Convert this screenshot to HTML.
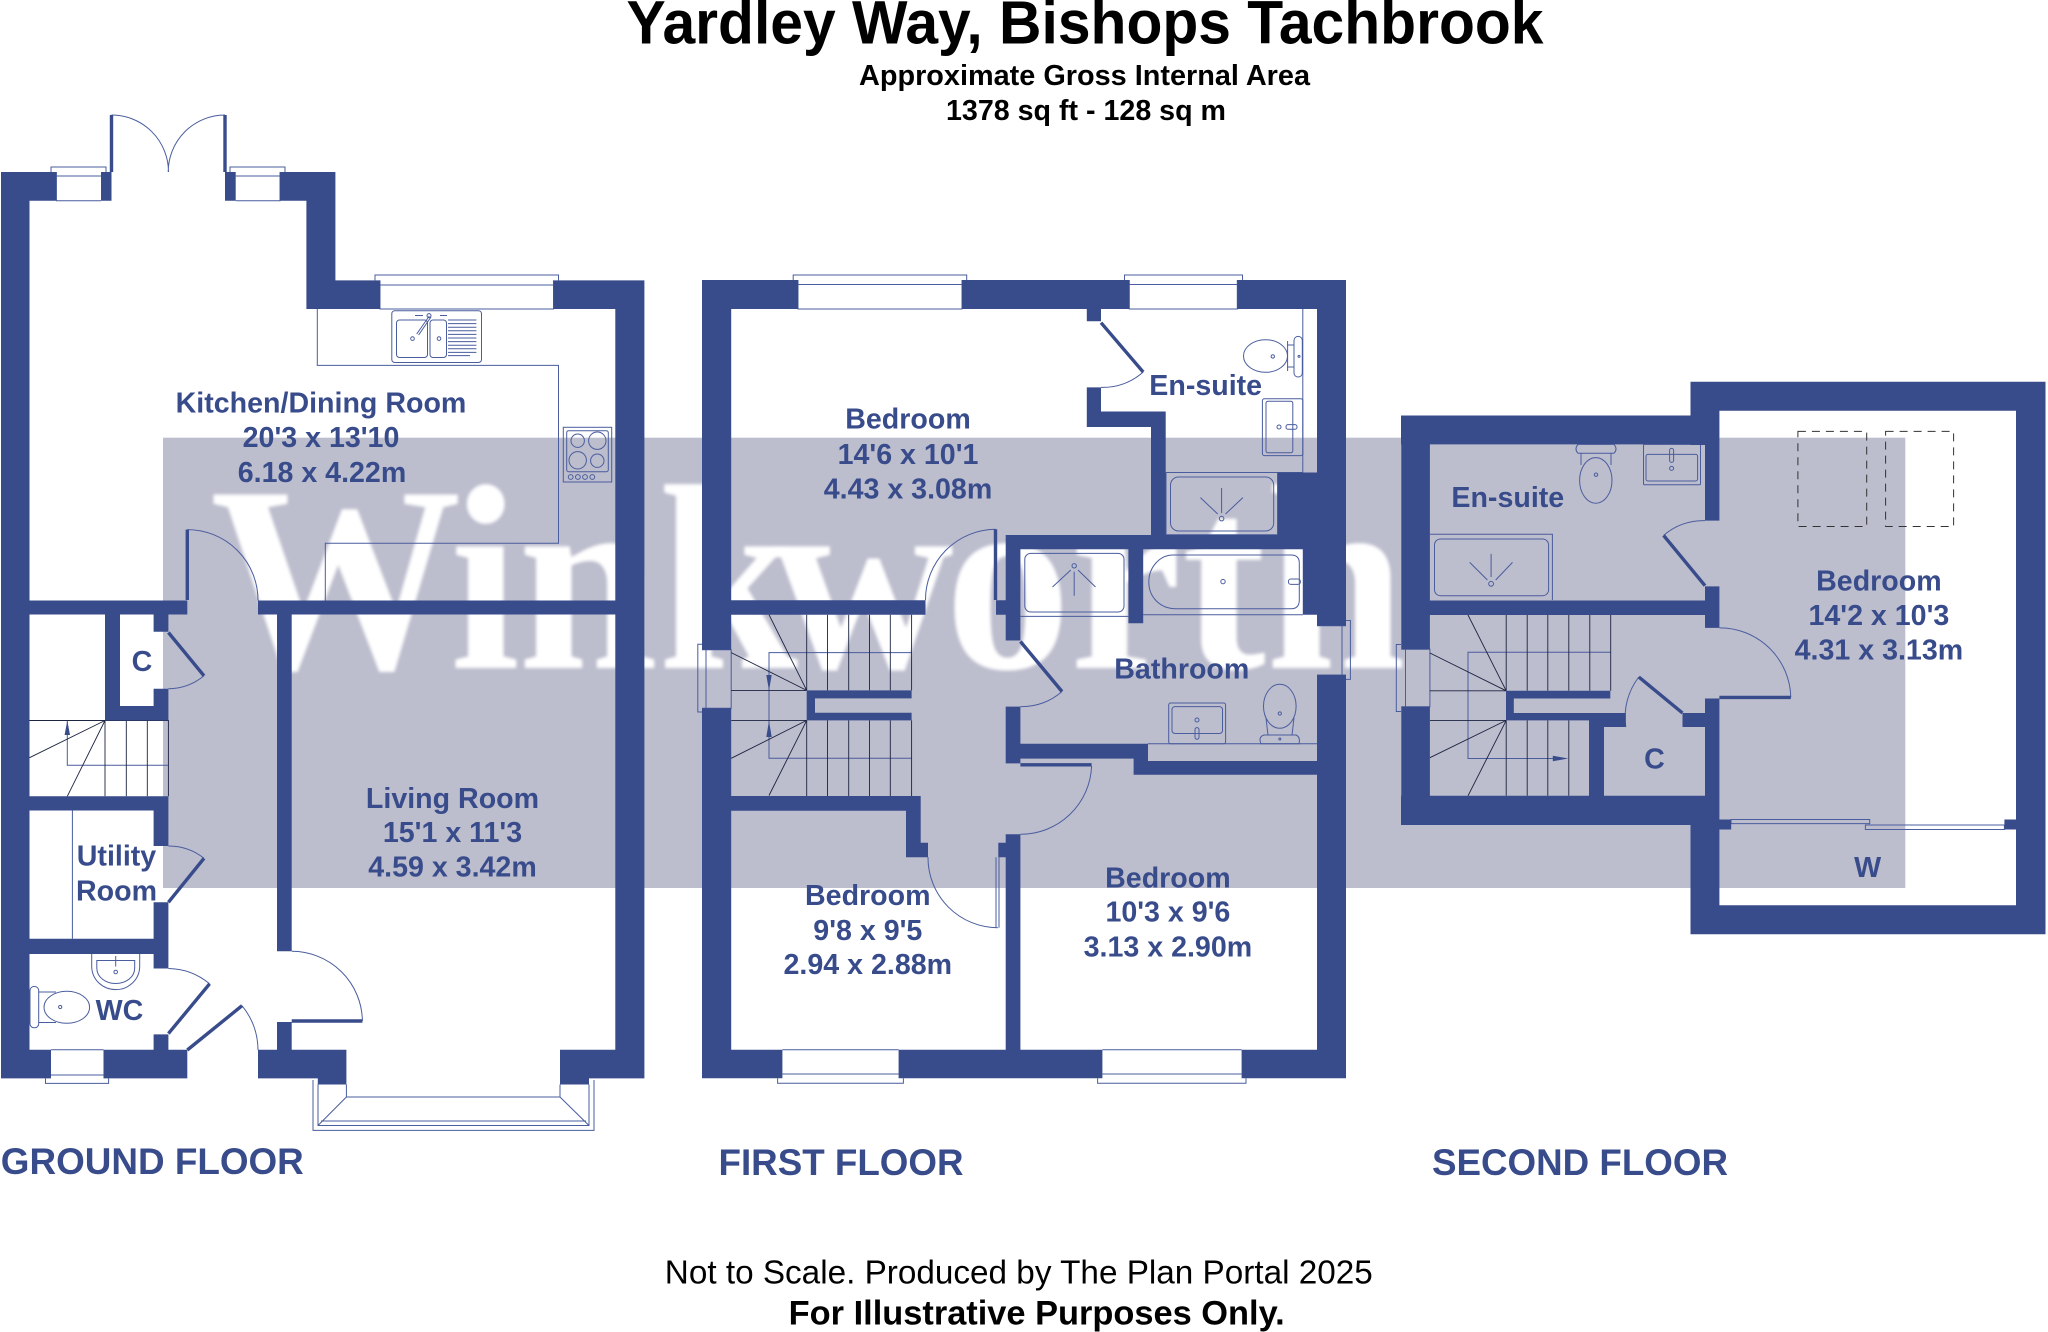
<!DOCTYPE html>
<html><head><meta charset="utf-8"><style>
html,body{margin:0;padding:0;background:#fff;width:2048px;height:1332px;overflow:hidden}
svg{display:block}
text{font-family:"Liberation Sans",sans-serif;font-weight:bold;fill:#384b8b;font-size:28.6px;text-anchor:middle}
.k{fill:#000}
.f{font-size:36.6px}
.thin{fill:none;stroke:#4a5d9e;stroke-width:1}
.leaf{fill:none;stroke:#384b8b;stroke-width:3.4}
.st{fill:none;stroke:#1c2440;stroke-width:.9}
</style></head><body>
<svg width="2048" height="1332" viewBox="0 0 2048 1332" xmlns="http://www.w3.org/2000/svg">
<defs><filter id="b" x="-5%" y="-5%" width="110%" height="110%"><feGaussianBlur stdDeviation="1.6"/></filter></defs>
<rect width="2048" height="1332" fill="#fff"/>
<rect x="163" y="437.7" width="1742.3" height="450.3" fill="#bcbdcd"/>
<g filter="url(#b)"><text transform="scale(.95 1)" x="221 473.7 545.3 692.6 812.6 994.7 1126.3 1244.2 1332.6" y="668" style="font-family:'Liberation Serif',serif;font-size:265px;fill:#fff;text-anchor:start">Winkworth</text></g>

<!-- thin lines: windows, worktops, door arcs -->
<g class="thin">
<!-- ground windows -->
<path d="M56.4 172V200.7H101M235.7 200.7H280V172M56.4 176H101M235.7 176H280M51 172V167H106V172M230 172V167H285V172"/>
<path d="M380 280.4V309H553.5V280.4M380 285H553.5M375 280.4V275H558.5V280.4"/>
<path d="M51 1049.7H103.5M51 1075H103.5M45.5 1078.4V1083.4H108.6V1078.4"/>
<path d="M313 1080V1130.4H594V1080M318 1084.5V1125.5H589V1084.5M346.4 1084.5V1097H560V1084.5M346.4 1097L318 1125.5M560 1097L589 1125.5M321 1121H586"/>
<!-- door arcs ground -->
<path d="M111.5 115A57 57 0 0 1 168.5 172M225 115A57 57 0 0 0 168.2 172"/>
<path d="M187.3 529.6A70.7 70.7 0 0 1 258 600.5"/>
<path d="M291.7 951.3A70.7 70.7 0 0 1 362.4 1021"/>
<path d="M242 1005.7A70.7 70.7 0 0 1 258 1050"/>
<path d="M204 675.8A57 57 0 0 1 168.4 688.8M204 858.3A57 57 0 0 0 168.4 846M209.6 983.8A66 66 0 0 0 168.4 968.5"/>
<!-- worktop -->
<path d="M317.3 309V365.4H558.5V543.2H325.3V600.7"/>
<rect x="391.8" y="310.7" width="89.7" height="51.8" rx="3"/>
<rect x="396.5" y="320" width="31" height="37.5" rx="3"/>
<rect x="430" y="320" width="16.5" height="37.5" rx="3"/>
<path d="M448 320H476.4M448 323.6H476.4M448 327.2H476.4M448 330.8H476.4M448 334.4H476.4M448 338H476.4M448 341.6H476.4M448 345.2H476.4M448 348.8H476.4M448 352.4H476.4M448 355.6H470"/>
<path d="M416.7 334L429.3 316M418.6 335L431 317"/>
<circle cx="412.5" cy="338.6" r="1.8"/><circle cx="439" cy="338.6" r="1.8"/><circle cx="429" cy="315.6" r="2"/>
<path d="M415 315.5H423M440 315.5H447"/>
<rect x="563.3" y="427.3" width="48.4" height="54.7"/>
<rect x="566.7" y="430.7" width="41.6" height="41" rx="2"/>
<circle cx="577.7" cy="440.7" r="6.7"/><circle cx="597.3" cy="440.7" r="8.7"/><circle cx="577.7" cy="460.3" r="8.7"/><circle cx="597.3" cy="460.7" r="6.7"/>
<circle cx="570.7" cy="477" r="2.4"/><circle cx="577.9" cy="477" r="2.4"/><circle cx="585" cy="477" r="2.4"/><circle cx="592.3" cy="477" r="2.4"/>
<!-- utility line, WC fixtures -->
<path d="M72.4 810.5V938.7"/>
<path d="M91.7 954V966C91.7 980 103 989.6 115.7 989.6S139.7 980 139.7 966V954"/>
<path d="M96.8 960.5H134.7V968C134.7 977 126 983.5 115.7 983.5S96.8 977 96.8 968Z"/>
<path d="M115.7 956V966.5"/><circle cx="115.7" cy="972" r="1.8"/>
<rect x="30" y="986.5" width="8.7" height="41.3" rx="4"/>
<ellipse cx="66.8" cy="1007.3" rx="22.8" ry="16"/>
<path d="M38.7 992L56 992M38.7 1022.5L56 1022.5"/>
<circle cx="60.2" cy="1007" r="1.6"/>
<!-- ground stairs arrow -->
<path d="M168.4 765.3H67.3V720.5"/>
</g>
<path d="M67.3 720.5L64.6 735H70L67.3 720.5Z" fill="#384b8b"/>
<path class="st" d="M29.5 720.5H168.4V796.3M105 720.5V796.3M126.3 720.5V796.3M147.3 720.5V796.3M105 720.5L29.5 757.7M105 720.5L67.3 796.3"/>

<g class="thin">
<!-- first floor windows -->
<path d="M798 280V309H962V280M798 284.5H962M793.2 280V275H966.7V280"/>
<path d="M1129.3 280V309H1237.3V280M1129.3 284.5H1237.3M1124.5 280V275H1242.5V280"/>
<path d="M782.4 1049.7H898.6M782.4 1074H898.6M777.6 1078.3V1083.3H903.4V1078.3M1102.4 1049.7H1241.6M1102.4 1074H1241.6M1097.6 1078.3V1083.3H1246V1078.3"/>
<path d="M1317 625.7H1346M1317 675H1346M1342 625.7V675M1346 620.5H1350.4V679.4H1346"/>
<path d="M702 649.8H731.2V708.3H702M706 649.8V708.3M702 644.3H697.8V712H702"/>
<!-- first floor arcs -->
<path d="M1143.2 372A60 60 0 0 1 1101 387.4M1062 691.5A60 60 0 0 1 1020.4 706.6"/>
<path d="M995.5 529.3A70.5 70.5 0 0 0 925.5 600.2"/>
<path d="M1091.6 766A71 71 0 0 1 1020.4 834.3"/>
<path d="M928 857A70 70 0 0 0 997.9 927.7"/>
<path d="M996 857.3V927.7M999 857.3V927.7"/>
<path d="M1302.8 309V472.5M1166 472.5H1302.8"/>
<!-- ensuite fixtures -->
<rect x="1294" y="336.4" width="8.3" height="40.6" rx="4"/>
<ellipse cx="1265.5" cy="356" rx="22" ry="16.3"/>
<path d="M1287 345L1294 345M1287 367L1294 367M1287.6 341V371"/><circle cx="1272.8" cy="356.4" r="1.7"/><circle cx="1299" cy="356.4" r="1"/>
<rect x="1262.4" y="398.8" width="40.4" height="56.8" rx="2"/>
<rect x="1266" y="401.2" width="26.8" height="51.6" rx="2"/>
<circle cx="1279" cy="427" r="2"/><rect x="1286" y="424.6" width="11" height="4.6" rx="2"/>
<path d="M1166 472.5V534.8H1277.6V472.5"/>
<rect x="1170.5" y="477" width="103.2" height="54" rx="8"/>
<circle cx="1221.6" cy="518.6" r="2.3"/><path d="M1221.6 488V513M1200.4 497.6L1217.7 514M1242.9 497.6L1225.5 514"/>
<!-- bath room -->
<path d="M1020.4 616.4H1128.4"/>
<rect x="1024.8" y="553.4" width="99.2" height="58.6" rx="6"/>
<circle cx="1074.2" cy="565.8" r="2.2"/><path d="M1074.2 571.6V595.7M1070.8 570L1052.5 587M1078 570L1095.5 587"/>
<path d="M1143.2 614.7H1302.8"/>
<path d="M1173 555H1291Q1299.3 555 1299.3 563V600Q1299.3 608.8 1291 608.8H1176C1160 608.8 1148.8 597 1148.8 582S1160 555 1173 555Z"/>
<circle cx="1223" cy="581.6" r="2.2"/><rect x="1288.4" y="579" width="12" height="5.4" rx="2.5"/>
<path d="M1148 743.8H1317"/>
<rect x="1168.7" y="703" width="56.9" height="40.8" rx="2"/>
<rect x="1172" y="706.6" width="50.5" height="26.9" rx="3"/>
<circle cx="1197" cy="720" r="2"/><rect x="1195" y="727.6" width="4" height="11.7" rx="2"/>
<ellipse cx="1279.8" cy="706.3" rx="16.3" ry="22"/>
<path d="M1266 718L1268 735M1294 718L1292 735"/>
<path d="M1264 735H1296Q1300.6 737 1299 743.8H1261Q1258 737 1264 735Z"/>
<circle cx="1279.8" cy="713.5" r="1.6"/><circle cx="1279.8" cy="739" r="1"/>
<!-- first floor stairs blue -->
<path d="M911.6 652.6H769V758.3H911.6"/>
</g>
<path class="st" d="M806.7 614.7V690.4M827.5 614.7V690.4M848.7 614.7V690.4M869.5 614.7V690.4M890.3 614.7V690.4M911.6 614.7V690.4M806.7 720.4V796M827.5 720.4V796M848.7 720.4V796M869.5 720.4V796M890.3 720.4V796M911.6 720.4V796M731.2 690.4H806.7M731.2 720.4H806.7M806.7 690.4L731.2 652.6M806.7 690.4L769 614.7M806.7 720.4L731.2 758.3M806.7 720.4L769 795.5"/>
<path d="M769 690.4L766.3 675H771.7ZM769 721L766.3 737H771.7Z" fill="#384b8b"/>

<g class="thin">
<!-- second floor -->
<path d="M1401.3 649.3H1429.9V706.7H1401.3M1405.5 649.3V706.7M1401 644.5H1396.3V711.5H1401"/>
<path d="M1663.6 535.4A60 60 0 0 1 1705 520.6"/>
<path d="M1719.4 627.9A71 71 0 0 1 1790.8 697.4"/>
<path d="M1638.8 677A66 66 0 0 0 1625.8 727"/>
<path d="M1429.9 534.3H1552.4V600"/>
<rect x="1434.5" y="539" width="114.1" height="56.7" rx="6"/>
<circle cx="1491.1" cy="583.8" r="2.4"/><path d="M1491.1 553.9V577M1469.7 562.4L1487.4 580M1512.5 562.4L1495.7 580"/>
<path d="M1578 444.4H1614Q1618 449 1614 453.2H1578Q1574 449 1578 444.4Z"/>
<ellipse cx="1595.8" cy="480.4" rx="16.2" ry="22.8"/>
<path d="M1581 453.2V465M1611 453.2V465"/><circle cx="1596" cy="474.7" r="1.7"/>
<rect x="1643.5" y="444.4" width="57" height="40.3" rx="1"/>
<rect x="1646" y="454.4" width="51.6" height="26.6" rx="2"/>
<rect x="1669.6" y="448.4" width="4" height="14" rx="2"/><circle cx="1671.6" cy="468.4" r="2"/>
<path d="M1731 819.5H1869.7V823.6H1731ZM1865.4 825H2004.4V829.5H1865.4Z"/>
<path d="M1610.7 652.3H1468V758.5H1553"/>
</g>
<path class="st" d="M1506.2 615V690.8M1527.2 615V690.8M1547.8 615V690.8M1568.8 615V690.8M1589.8 615V690.8M1610.7 615V690.8M1527.2 720.4V795.8M1547.8 720.4V795.8M1568.8 720.4V795.8M1506.2 720.4V795.8M1429.9 690.8H1506.2M1429.9 720.4H1506.2M1506.2 690.8L1429.9 653M1506.2 690.8L1468 615M1506.2 720.4L1429.9 757.7M1506.2 720.4L1468 795.8"/>
<path d="M1568.3 758.5L1552.8 755.7V761.3Z" fill="#384b8b"/>
<g fill="none" stroke="#333" stroke-width="1" stroke-dasharray="8 6">
<rect x="1797.9" y="431.4" width="68.8" height="95.1"/>
<rect x="1885.6" y="431.4" width="68" height="95.1"/>
</g>

<!-- walls -->
<path fill="#384b8b" d="
M1 172H29.5V1078.4H1Z M29 172H56.4V200.7H29Z M101 172H111.5V200.7H101Z M225 172H235.7V200.7H225Z
M280 172H335.4V309H306.4V200.7H280Z M335 280.4H380V309H335Z
M553.5 280.4H644.4V1078.4H615.3V309H553.5Z
M560 1049.7H616V1078.4H589V1084.5H560Z M258 1049.7H346.4V1084.5H317.8V1078.4H258Z
M29 1049.7H51V1078.4H29Z M103.5 1049.7H187.3V1078.4H103.5Z
M29 600.5H187.3V614.5H29Z M258 600.5H616V614.5H258Z
M277 614H291.7V951.3H277Z M277 1022H291.7V1050H277Z
M105 614H120V720.5H105Z M105 706H168.4V720.5H105Z M153.6 614H168.4V631.8H153.6Z M153.6 688.8H168.4V707H153.6Z
M29 796.3H168.4V810.5H29Z M153.6 810H168.4V846H153.6Z M153.6 902.3H168.4V939H153.6Z M29 938.7H168.4V954H29Z M153.6 954H168.4V968.5H153.6Z M153.6 1034.4H168.4V1050H153.6Z
M702 280H731.2V649.8H702Z M702 708.3H731.2V1078.3H702Z
M731 280H798V309H731Z M962 280H1129.3V309H962Z M1237.3 280H1317V309H1237.3Z
M1317 280H1346V625.7H1317Z M1317 675H1346V1078.3H1317Z
M1277.6 472.5H1317V535H1277.6Z M1302.8 535H1317V614.7H1302.8Z M1005.7 535H1317V549.3H1005.7Z
M1086.8 309H1101V321.3H1086.8Z M1086.8 387.4H1101V411.5H1165.7V535H1151V427H1086.8Z
M1005.7 535H1020.4V640.5H1005.7Z M996 600.2H1006V614.7H996Z M731 600.2H925.5V614.7H731Z
M1128.4 549H1143.2V623.3H1128.4Z
M1005.7 706.6H1020.4V763.4H1005.7Z M1020 743.8H1148V774.8H1133.6V758.6H1020Z M1133.6 761H1317V774.8H1133.6Z
M1005.7 834.3H1020.4V1050H1005.7Z M998.3 842.7H1006V857.3H998.3Z
M806.7 690.4H911.6V698.4H815V712.8H911.6V720.4H806.7Z
M731 796H920.7V842.7H928V857.3H906V810.7H731Z
M731 1049.7H782.4V1078.3H731Z M898.6 1049.7H1102.4V1078.3H898.6Z M1241.6 1049.7H1317V1078.3H1241.6Z
M1401.3 415.5H1429.9V649.3H1401.3Z M1401.3 706.7H1429.9V825H1401.3Z
M1401 415.5H1719.4V444.4H1401Z M1690.5 381.8H2045.5V410.7H1690.5Z M1690.5 381.8H1719.4V445H1690.5Z
M2016 381.8H2045.5V934.2H2016Z M1690.5 905.3H2045.5V934.2H1690.5Z M1690.5 795.8H1719.4V934.2H1690.5Z M1401 795.8H1705V825H1401Z
M1705 444H1719.4V520.6H1705Z M1705 586.4H1719.4V627.9H1705Z M1429 600.5H1705V615H1429Z M1705 698.5H1719.4V800H1705Z M1682.5 713H1719.4V727H1682.5Z
M1506 690.8H1610.3V698.5H1513.8V713H1625.8V727H1604V796H1589V720.4H1506Z
M1719 819.5H1731.2V829.5H1719Z M2004.4 819.5H2016.5V829.5H2004.4Z
"/>

<!-- door leaves -->
<path class="leaf" d="M111.5 172V115M225 172V115M187.3 600V529.6M291.7 1021H362.4M187.3 1050L242 1005.7M168.4 632.5L204 675.8M168.4 902.3L204 858.3M168.4 1033.6L209.6 983.8"/>
<path class="leaf" d="M995.5 600V529.3M1101 322.7L1143.2 372M1020.4 641.5L1062 691.5M1020.4 764.8H1091.6"/>
<path class="leaf" d="M1705 585.7L1663.6 535.4M1719.4 697.4H1790.8M1682.5 713L1638.8 677"/>

<!-- header -->
<text class="k" x="1085" y="43.3" style="font-size:61px" textLength="917" lengthAdjust="spacingAndGlyphs">Yardley Way, Bishops Tachbrook</text>
<text class="k" x="1084.5" y="85" textLength="451" lengthAdjust="spacingAndGlyphs">Approximate Gross Internal Area</text>
<text class="k" x="1086" y="120" textLength="280" lengthAdjust="spacingAndGlyphs">1378 sq ft - 128 sq m</text>

<!-- labels -->
<text x="321" y="412.5">Kitchen/Dining Room</text><text x="321" y="447">20'3 x 13'10</text><text x="322" y="482">6.18 x 4.22m</text>
<text x="452.5" y="807.8">Living Room</text><text x="452.5" y="841.9">15'1 x 11'3</text><text x="452.5" y="876.7">4.59 x 3.42m</text>
<text x="116.5" y="865.6">Utility</text><text x="116.5" y="900.4">Room</text>
<text x="119.5" y="1020">WC</text>
<text x="142" y="671">C</text>
<text x="908" y="428.7">Bedroom</text><text x="908" y="463.9">14'6 x 10'1</text><text x="908" y="498.6">4.43 x 3.08m</text>
<text x="1205.7" y="395">En-suite</text>
<text x="1181.8" y="678.4">Bathroom</text>
<text x="867.8" y="905">Bedroom</text><text x="867.8" y="940">9'8 x 9'5</text><text x="867.8" y="974">2.94 x 2.88m</text>
<text x="1167.9" y="887.3">Bedroom</text><text x="1167.9" y="921.7">10'3 x 9'6</text><text x="1167.9" y="956.7">3.13 x 2.90m</text>
<text x="1507.8" y="506.9">En-suite</text>
<text x="1654.4" y="768.4">C</text>
<text x="1878.9" y="590.5">Bedroom</text><text x="1878.9" y="625">14'2 x 10'3</text><text x="1878.9" y="659.3">4.31 x 3.13m</text>
<text x="1867.6" y="876.8">W</text>

<text class="f" x="152.3" y="1174" textLength="303" lengthAdjust="spacingAndGlyphs">GROUND FLOOR</text>
<text class="f" x="841" y="1175" textLength="245" lengthAdjust="spacingAndGlyphs">FIRST FLOOR</text>
<text class="f" x="1580" y="1175" textLength="296" lengthAdjust="spacingAndGlyphs">SECOND FLOOR</text>

<!-- footer -->
<text class="k" x="1018.8" y="1283.3" style="font-size:33.4px;font-weight:normal" textLength="708" lengthAdjust="spacingAndGlyphs">Not to Scale. Produced by The Plan Portal 2025</text>
<text class="k" x="1036.7" y="1324.3" style="font-size:34px" textLength="496" lengthAdjust="spacingAndGlyphs">For Illustrative Purposes Only.</text>
</svg>
</body></html>
